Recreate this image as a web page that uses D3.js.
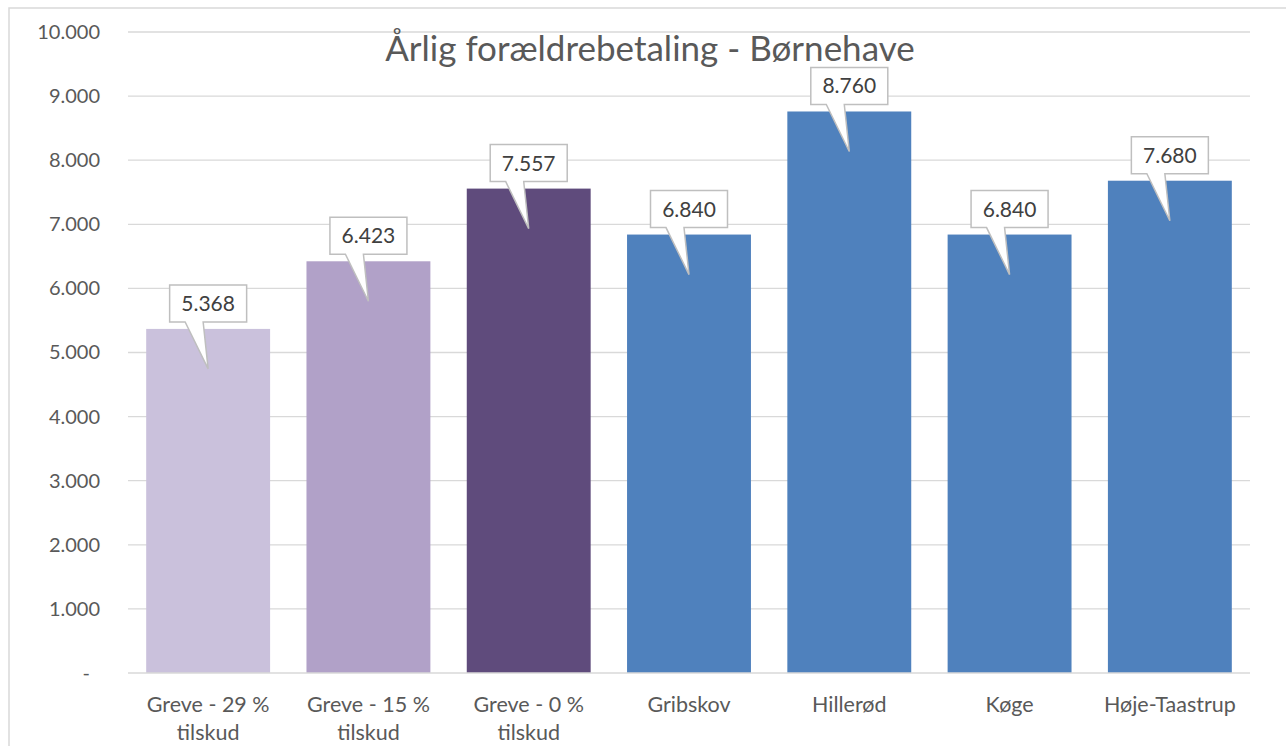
<!DOCTYPE html>
<html>
<head>
<meta charset="utf-8">
<script src="https://cdn.jsdelivr.net/npm/d3@7"></script>
<style>
  body { margin: 0; background: #fff; }
  text { font-family: Lato, "Open Sans", sans-serif; }
</style>
</head>
<body>
<div id="chart"></div>
<script>
var svgWidth = 1286;
var svgHeight = 746;

// chart data
var categories = ["Greve - 29 % tilskud", "Greve - 15 % tilskud", "Greve - 0 % tilskud",
  "Gribskov", "Hillerød", "Køge", "Høje-Taastrup"];
var categoryLines = [["Greve - 29 %", "tilskud"], ["Greve - 15 %", "tilskud"], ["Greve - 0 %", "tilskud"],
  ["Gribskov"], ["Hillerød"], ["Køge"], ["Høje-Taastrup"]];
var values = [5368, 6423, 7557, 6840, 8760, 6840, 7680];
var barColors = ["#cac1dc", "#b1a1c8", "#5f4b7c", "#4f81bd", "#4f81bd", "#4f81bd", "#4f81bd"];
var yTicks = [0, 1000, 2000, 3000, 4000, 5000, 6000, 7000, 8000, 9000, 10000];

var margin = { top: 32, right: 36, bottom: 73, left: 128 };
var chartWidth = svgWidth - margin.left - margin.right;
var chartHeight = svgHeight - margin.top - margin.bottom;

var svg = d3.select("#chart")
  .append("svg")
  .attr("width", svgWidth)
  .attr("height", svgHeight);

// outer chart border (cut off at right and bottom like the original)
svg.append("rect")
  .attr("x", 9).attr("y", 8)
  .attr("width", 1300).attr("height", 760)
  .attr("fill", "none")
  .attr("stroke", "#d9d9d9")
  .attr("stroke-width", 1.5);

var chartGroup = svg.append("g")
  .attr("transform", `translate(${margin.left}, ${margin.top})`);

var xScale = d3.scaleBand()
  .domain(categories)
  .range([0, chartWidth])
  .paddingInner(0.227)
  .paddingOuter(0.1135);

var yScale = d3.scaleLinear()
  .domain([0, 10000])
  .range([chartHeight, 0]);

var fmt = function(v) {
  return v === 0 ? "-" : d3.format(",")(v).replace(/,/g, ".");
};

// gridlines
chartGroup.selectAll(".grid")
  .data(yTicks.filter(d => d > 0))
  .enter()
  .append("line")
  .attr("x1", 0).attr("x2", chartWidth)
  .attr("y1", d => yScale(d)).attr("y2", d => yScale(d))
  .attr("stroke", "#d9d9d9")
  .attr("stroke-width", 1.3);

// y axis labels
var leftAxis = d3.axisLeft(yScale).tickValues(yTicks).tickFormat(fmt).tickSize(0).tickPadding(28);
var yAxisG = chartGroup.append("g").call(leftAxis);
yAxisG.select(".domain").remove();
yAxisG.selectAll("text")
  .attr("fill", "#595959")
  .attr("font-size", 20)
  .style("font-family", "Lato, sans-serif");
// accounting style dash for zero sits a bit further left
yAxisG.selectAll(".tick").filter(d => d === 0).select("text")
  .attr("dx", -10);

// bars
chartGroup.selectAll(".bar")
  .data(values)
  .enter()
  .append("rect")
  .attr("x", (d, i) => xScale(categories[i]))
  .attr("y", d => yScale(d))
  .attr("width", xScale.bandwidth())
  .attr("height", d => chartHeight - yScale(d))
  .attr("fill", (d, i) => barColors[i]);

// baseline
chartGroup.append("line")
  .attr("x1", 0).attr("x2", chartWidth)
  .attr("y1", chartHeight).attr("y2", chartHeight)
  .attr("stroke", "#d9d9d9")
  .attr("stroke-width", 1.5);

// x labels
var xLabels = chartGroup.selectAll(".xlabel")
  .data(categoryLines)
  .enter()
  .append("text")
  .attr("text-anchor", "middle")
  .attr("fill", "#595959")
  .attr("font-size", 21.5)
  .attr("transform", (d, i) => `translate(${xScale(categories[i]) + xScale.bandwidth() / 2}, ${chartHeight + 39})`);
xLabels.selectAll("tspan")
  .data(d => d)
  .enter()
  .append("tspan")
  .attr("x", 0)
  .attr("dy", (d, i) => i === 0 ? 0 : 28)
  .text(d => d);

// callout data labels
var gap = 7;
var callouts = chartGroup.selectAll(".callout")
  .data(values)
  .enter()
  .append("g")
  .attr("transform", (d, i) => `translate(${xScale(categories[i]) + xScale.bandwidth() / 2}, ${yScale(d)})`);

callouts.append("path")
  .attr("d", function() {
    var w = 77, h = 37;
    var x0 = -w / 2, x1 = w / 2, y1 = -gap, y0 = y1 - h;
    return `M${x0},${y0}H${x1}V${y1}H-5L0,40L-23,${y1}H${x0}Z`;
  })
  .attr("fill", "#ffffff")
  .attr("stroke", "#bfbfbf")
  .attr("stroke-width", 1.5);

callouts.append("text")
  .attr("text-anchor", "middle")
  .attr("y", -gap - 11)
  .attr("fill", "#404040")
  .attr("font-size", 21)
  .text(d => fmt(d));

// title
svg.append("text")
  .attr("x", 650)
  .attr("y", 61)
  .attr("text-anchor", "middle")
  .attr("fill", "#595959")
  .attr("font-size", 35)
  .text("Årlig forældrebetaling - Børnehave");
</script>
</body>
</html>
